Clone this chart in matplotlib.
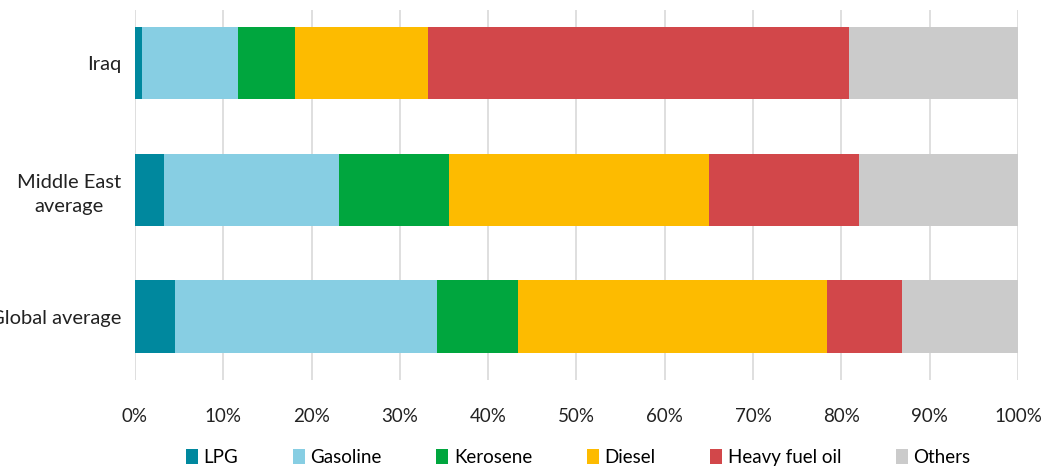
import matplotlib
matplotlib.use("Agg")
import matplotlib.pyplot as plt
import numpy as np
from matplotlib.ticker import FuncFormatter

plt.rcParams["font.family"] = ["Lato", "DejaVu Sans"]

# bottom to top
regions = ["Global average", "Middle East\naverage", "Iraq"]
products = ["LPG", "Gasoline", "Kerosene", "Diesel", "Heavy fuel oil", "Others"]
colors = ["#00889e", "#87cee3", "#00a63e", "#fdbb00", "#d2474a", "#cbcbcb"]

# shares in % (Global, Middle East, Iraq)
lpg = [4.5, 3.3, 0.8]
gasoline = [29.7, 19.8, 10.9]
kerosene = [9.2, 12.5, 6.4]
diesel = [35.0, 29.4, 15.1]
heavy_fuel_oil = [8.5, 17.0, 47.7]
others = [13.1, 18.0, 19.1]

series = [lpg, gasoline, kerosene, diesel, heavy_fuel_oil, others]

fig = plt.figure(figsize=(10.57, 4.69), dpi=100)
ax = fig.add_axes([0.1277, 0.190, 0.8353, 0.789])

y = np.arange(len(regions))
left = np.zeros(len(regions))
for name, vals, c in zip(products, series, colors):
    vals = np.array(vals, dtype=float)
    ax.barh(y, vals, left=left, height=0.57, color=c, label=name, zorder=3)
    left += vals

ax.set_xlim(0, 100)
ax.set_ylim(-0.5, 2.42)
ax.set_xticks(np.arange(0, 101, 10))
ax.xaxis.set_major_formatter(FuncFormatter(lambda v, p: f"{v:.0f}%"))
ax.set_yticks(y)
ax.set_yticklabels(regions, ha="right", multialignment="center", linespacing=1.5)
ax.tick_params(axis="y", length=0, pad=10, labelsize=14.5, colors="#222222")
ax.tick_params(axis="x", length=0, pad=20, labelsize=13.5, colors="#222222")
ax.grid(axis="x", color="#d9d9d9", linewidth=1.2, zorder=0)
for s in ax.spines.values():
    s.set_visible(False)

fig.legend(loc="lower center", bbox_to_anchor=(0.547, -0.03), ncol=6, frameon=False,
           fontsize=13.5, handlelength=0.65, handleheight=0.85, handletextpad=0.3,
           columnspacing=2.9)

fig.savefig("out.png", dpi=100)
